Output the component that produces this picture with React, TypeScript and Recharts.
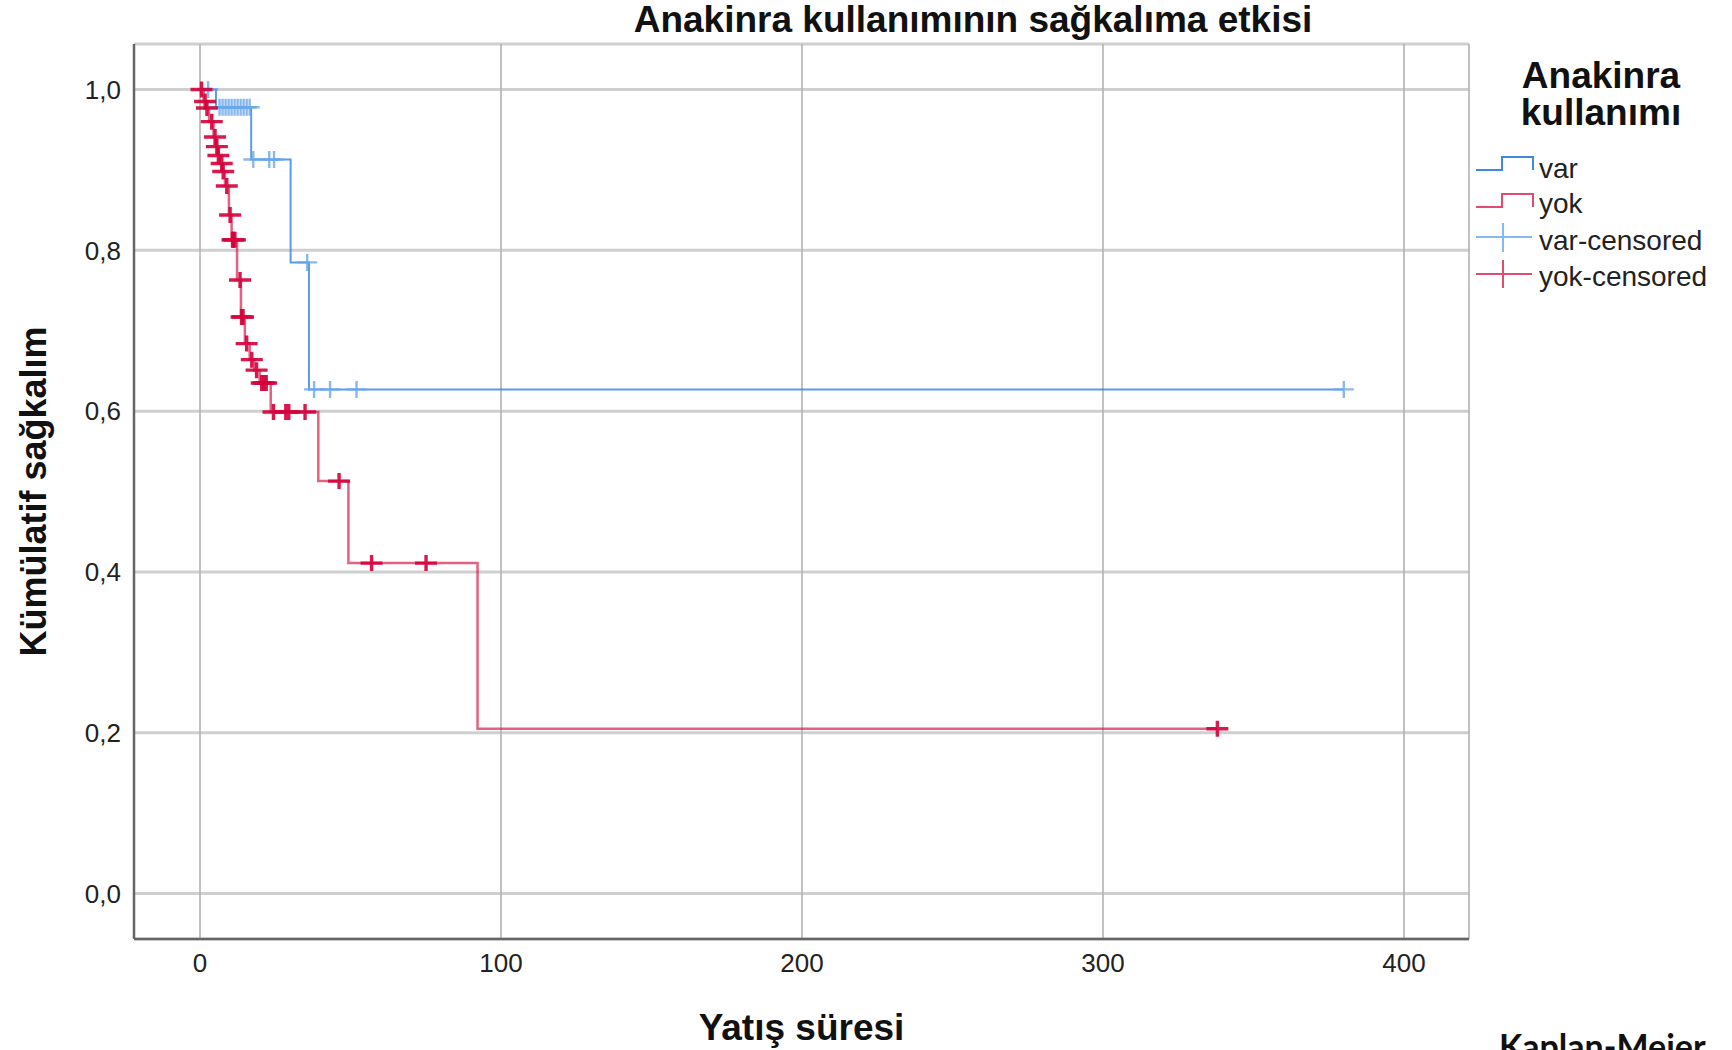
import {
  ComposedChart, Line, Scatter, XAxis, YAxis, CartesianGrid, Label,
} from 'recharts';

// Kaplan-Meier steps (time, cumulative survival)
const varTimes = [0, 5.3, 17.0, 30.1, 36.2, 380];
const varSurv = [1.0, 0.978, 0.913, 0.785, 0.627, 0.627];

const yokTimes = [0, 1.2, 2.0, 3.0, 4.5, 5.3, 5.9, 6.6, 7.5, 8.3, 9.6, 10.5, 12.3, 13.6, 14.9, 16.5, 18.0, 19.8, 23.5, 39.3, 49.3, 92.2, 338];
const yokSurv = [1.0, 0.985, 0.977, 0.96, 0.941, 0.929, 0.918, 0.908, 0.898, 0.88, 0.844, 0.813, 0.763, 0.717, 0.684, 0.664, 0.651, 0.635, 0.599, 0.513, 0.411, 0.205, 0.205];

// censored cases
const varCensTimes = [2.7, 6.5, 7.5, 8.5, 9.5, 10.5, 11.5, 12.5, 13.5, 14.5, 15.5, 16.5, 17.7, 23.0, 24.6, 35.6, 37.9, 43.2, 52.0, 380];
const varCensSurv = [1.0, 0.978, 0.978, 0.978, 0.978, 0.978, 0.978, 0.978, 0.978, 0.978, 0.978, 0.978, 0.913, 0.913, 0.913, 0.785, 0.627, 0.627, 0.627, 0.627];

const yokCensTimes = [0.5, 1.7, 2.3, 3.9, 5.0, 5.6, 6.1, 7.2, 7.7, 8.9, 10.0, 10.8, 11.1, 11.6, 13.3, 13.8, 14.3, 15.5, 17.2, 18.8, 20.5, 21.2, 22.0, 24.4, 28.5, 29.5, 34.9, 46.2, 57.0, 75.1, 338];
const yokCensSurv = [1.0, 0.985, 0.977, 0.96, 0.941, 0.929, 0.918, 0.908, 0.898, 0.88, 0.844, 0.813, 0.813, 0.813, 0.763, 0.717, 0.717, 0.684, 0.664, 0.651, 0.635, 0.635, 0.635, 0.599, 0.599, 0.599, 0.599, 0.513, 0.411, 0.411, 0.205];

const xTicks = [0, 100, 200, 300, 400];
const yTicks = [0, 0.2, 0.4, 0.6, 0.8, 1.0];

const toRows = (ts: number[], ss: number[]) => ts.map((t, i) => ({ t, s: ss[i] }));

const varLine = toRows(varTimes, varSurv);
const yokLine = toRows(yokTimes, yokSurv);
const varCens = toRows(varCensTimes, varCensSurv);
const yokCens = toRows(yokCensTimes, yokCensSurv);

const FONT = "'Liberation Sans', Arial, sans-serif";
const BLUE = '#3f8ae0';
const BLUE_C = '#6aa6ec';
const RED = '#d81e4c';
const RED_C = '#d4003a';

const Plus = (color: string, w: number, h: number, sw: number, op: number) => (props: any) => {
  const { cx, cy } = props;
  if (cx == null || cy == null) return <g />;
  return (
    <path
      d={`M${cx - w / 2},${cy}H${cx + w / 2}M${cx},${cy - h / 2}V${cy + h / 2}`}
      stroke={color}
      strokeWidth={sw}
      strokeOpacity={op}
      fill="none"
    />
  );
};

const LegendBox = () => (
  <g fontFamily={FONT}>
    <text x={1601} y={88} textAnchor="middle" fontSize={37} fontWeight="bold" fill="#111">Anakinra</text>
    <text x={1601} y={125} textAnchor="middle" fontSize={37} fontWeight="bold" fill="#111">kullanımı</text>

    <path d="M1476,170H1502V157H1533V170" stroke={BLUE} strokeWidth={2} fill="none" />
    <text x={1539} y={178} fontSize={28} fill="#222">var</text>

    <path d="M1476,207H1502V194H1533V207" stroke={RED} strokeOpacity={0.8} strokeWidth={2} fill="none" />
    <text x={1539} y={213} fontSize={28} fill="#222">yok</text>

    <path d="M1476,237H1532M1503,223V252" stroke={BLUE_C} strokeOpacity={0.8} strokeWidth={2} fill="none" />
    <text x={1539} y={250} fontSize={28} fill="#222">var-censored</text>

    <path d="M1476,274H1532M1503,260V288" stroke={RED} strokeOpacity={0.8} strokeWidth={2} fill="none" />
    <text x={1539} y={286} fontSize={28} fill="#222">yok-censored</text>
  </g>
);

export default function App() {
  return (
    <div style={{ position: 'absolute', left: 0, top: 0, width: 1732, height: 1050, overflow: 'hidden', background: '#fff' }}>
      <ComposedChart
        width={1732}
        height={1050}
        margin={{ top: 44, right: 263, bottom: 0, left: 0 }}
      >
        <CartesianGrid vertical={false} stroke="#cfcfcf" strokeWidth={3} />
        <CartesianGrid horizontal={false} stroke="#b2b2b2" strokeWidth={1.6} />
        <XAxis
          type="number"
          dataKey="t"
          domain={[-21.93, 421.6]}
          ticks={xTicks}
          allowDataOverflow
          height={111}
          tickLine={false}
          tickSize={0}
          tickMargin={15}
          axisLine={{ stroke: '#666', strokeWidth: 2.5 }}
          tick={{ fontSize: 26, fill: '#222', fontFamily: FONT }}
        >
          <Label
            value="Yatış süresi"
            position="insideBottom"
            offset={10}
            style={{ fontSize: 37, fontWeight: 'bold', fill: '#111', fontFamily: FONT }}
          />
        </XAxis>
        <YAxis
          type="number"
          dataKey="s"
          domain={[-0.0565, 1.0566]}
          ticks={yTicks}
          allowDataOverflow
          width={134}
          tickLine={false}
          tickSize={0}
          tickMargin={13}
          axisLine={{ stroke: '#666', strokeWidth: 2.5 }}
          tick={{ fontSize: 26, fill: '#222', fontFamily: FONT }}
          tickFormatter={(v: number) => v.toFixed(1).replace('.', ',')}
        >
          <Label
            value="Kümülatif sağkalım"
            position="insideLeft"
            angle={-90}
            offset={33}
            style={{ fontSize: 36, fontWeight: 'bold', fill: '#111', fontFamily: FONT, textAnchor: 'middle' }}
          />
        </YAxis>

        <Line
          data={varLine}
          dataKey="s"
          type="stepAfter"
          stroke={BLUE}
          strokeOpacity={0.85}
          strokeWidth={2}
          dot={false}
          activeDot={false}
          isAnimationActive={false}
        />
        <Line
          data={yokLine}
          dataKey="s"
          type="stepAfter"
          stroke={RED}
          strokeOpacity={0.7}
          strokeWidth={2.5}
          dot={false}
          activeDot={false}
          isAnimationActive={false}
        />
        <Scatter
          data={varCens}
          dataKey="s"
          shape={Plus(BLUE_C, 20, 17, 2.4, 0.8)}
          isAnimationActive={false}
        />
        <Scatter
          data={yokCens}
          dataKey="s"
          shape={Plus(RED_C, 22, 16, 3.4, 0.9)}
          isAnimationActive={false}
        />
      </ComposedChart>

      <svg width={1732} height={1050} style={{ position: 'absolute', left: 0, top: 0, pointerEvents: 'none' }}>
        <text x={973} y={32} textAnchor="middle" fontSize={37} fontWeight="bold" fill="#111" fontFamily={FONT}>
          Anakinra kullanımının sağkalıma etkisi
        </text>
        <LegendBox />
        <text x={1499} y={1059} fontSize={34} fontWeight="bold" fill="#111" fontFamily="Lato, 'Open Sans', sans-serif">
          Kaplan-Meier
        </text>
      </svg>
    </div>
  );
}
